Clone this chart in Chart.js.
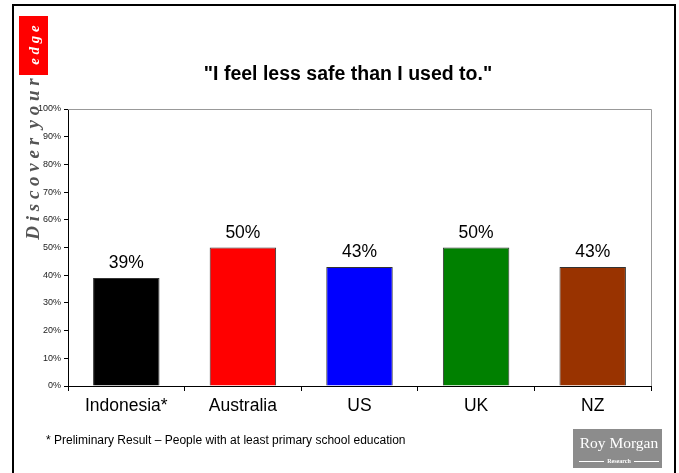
<!DOCTYPE html>
<html><head><meta charset="utf-8">
<script src="https://cdn.jsdelivr.net/npm/chart.js@4"></script>
<style>html,body{margin:0;padding:0;background:#fff;}#wrap{width:679px;height:473px;position:relative;}</style>
</head><body><div id="wrap"><canvas id="c" width="679" height="473"></canvas></div>
<script>
const categories = ["Indonesia*", "Australia", "US", "UK", "NZ"];
const values = [39, 50, 43, 50, 43];
const barColors = ["#000000", "#ff0000", "#0000ff", "#008000", "#993300"];
const yTicks = [0, 10, 20, 30, 40, 50, 60, 70, 80, 90, 100];
const titleText = '"I feel less safe than I used to."';
const footnote = "* Preliminary Result \u2013 People with at least primary school education";

const deco = {
  id: 'deco',
  beforeDraw(chart) {
    const ctx = chart.ctx;
    ctx.save();
    ctx.fillStyle = '#fff';
    ctx.fillRect(0, 0, 679, 473);
    // outer frame
    ctx.strokeStyle = '#000';
    ctx.lineWidth = 2;
    ctx.strokeRect(13, 5, 662, 480);
    // red logo box
    ctx.fillStyle = '#ff0000';
    ctx.fillRect(19, 16, 29, 59);
    ctx.translate(39, 45);
    ctx.rotate(-Math.PI / 2);
    ctx.fillStyle = '#fff';
    ctx.font = 'italic bold 15px "Liberation Serif", serif';
    ctx.textAlign = 'center';
    ctx.textBaseline = 'alphabetic';
    ctx.fillText('e d g e', 0, 0);
    ctx.restore();
    ctx.save();
    ctx.translate(39, 159);
    ctx.rotate(-Math.PI / 2);
    ctx.fillStyle = '#555';
    ctx.font = 'italic bold 19px "Liberation Serif", serif';
    ctx.textAlign = 'center';
    ctx.fillText('D i s c o v e r  y o u r', 0, 0);
    ctx.restore();
    // title
    ctx.save();
    ctx.fillStyle = '#000';
    ctx.font = 'bold 19.5px "Liberation Sans", Arial, sans-serif';
    ctx.textAlign = 'center';
    ctx.textBaseline = 'middle';
    ctx.fillText(titleText, 348, 75);
    // footnote
    ctx.font = '12px "Liberation Sans", Arial, sans-serif';
    ctx.textAlign = 'left';
    ctx.fillText(footnote, 46, 441);
    // Roy Morgan logo
    ctx.fillStyle = '#8c8c8c';
    ctx.fillRect(573, 429, 89, 39);
    ctx.fillStyle = '#fff';
    ctx.font = '15.5px "Liberation Serif", serif';
    ctx.textAlign = 'center';
    ctx.fillText('Roy Morgan', 619, 444);
    ctx.font = 'bold 6px "Liberation Serif", serif';
    ctx.fillText('Research', 619, 461);
    ctx.strokeStyle = '#fff';
    ctx.lineWidth = 1;
    ctx.beginPath();
    ctx.moveTo(579, 461.5); ctx.lineTo(604, 461.5);
    ctx.moveTo(634, 461.5); ctx.lineTo(659, 461.5);
    ctx.stroke();
    ctx.restore();
  },
  afterDatasetsDraw(chart) {
    const ctx = chart.ctx;
    const a = chart.chartArea;
    ctx.save();
    ctx.strokeStyle = '#999';
    ctx.lineWidth = 1;
    ctx.beginPath();
    ctx.moveTo(a.left, Math.round(a.top) + 0.5);
    ctx.lineTo(Math.round(a.right) + 0.5, Math.round(a.top) + 0.5);
    ctx.lineTo(Math.round(a.right) + 0.5, a.bottom);
    ctx.stroke();
    const meta = chart.getDatasetMeta(0);
    ctx.fillStyle = '#000';
    ctx.font = '17.5px "Liberation Sans", Arial, sans-serif';
    ctx.textAlign = 'center';
    ctx.textBaseline = 'alphabetic';
    meta.data.forEach((bar, i) => {
      ctx.fillText(values[i] + '%', bar.x, bar.y - 10);
    });
    ctx.restore();
  }
};

new Chart(document.getElementById('c'), {
  type: 'bar',
  data: {
    labels: categories,
    datasets: [{
      data: values,
      backgroundColor: barColors,
      borderColor: '#333',
      borderWidth: 1,
      categoryPercentage: 1,
      barPercentage: 0.57
    }]
  },
  options: {
    responsive: false,
    animation: false,
    devicePixelRatio: 1,
    layout: { padding: { left: 0, right: 28, top: 109, bottom: 0 } },
    plugins: { legend: { display: false }, title: { display: false }, tooltip: { enabled: false } },
    scales: {
      x: {
        afterFit(s) { s.height = 87; },
        grid: { display: true, drawOnChartArea: false, drawTicks: true, tickLength: 5, offset: true, color: '#000' },
        border: { color: '#000', width: 1 },
        ticks: { color: '#000', font: { family: '"Liberation Sans", Arial, sans-serif', size: 17.5 }, padding: 5, maxRotation: 0 }
      },
      y: {
        min: 0, max: 100,
        afterFit(s) { s.width = 68; },
        afterBuildTicks(s) { s.ticks = yTicks.map(v => ({ value: v })); },
        grid: { display: true, drawOnChartArea: false, drawTicks: true, tickLength: 4, color: '#000' },
        border: { color: '#000', width: 1 },
        ticks: { color: '#222', font: { family: '"Liberation Sans", Arial, sans-serif', size: 9 }, padding: 3, callback: v => v + '%' }
      }
    }
  },
  plugins: [deco]
});
</script></body></html>
